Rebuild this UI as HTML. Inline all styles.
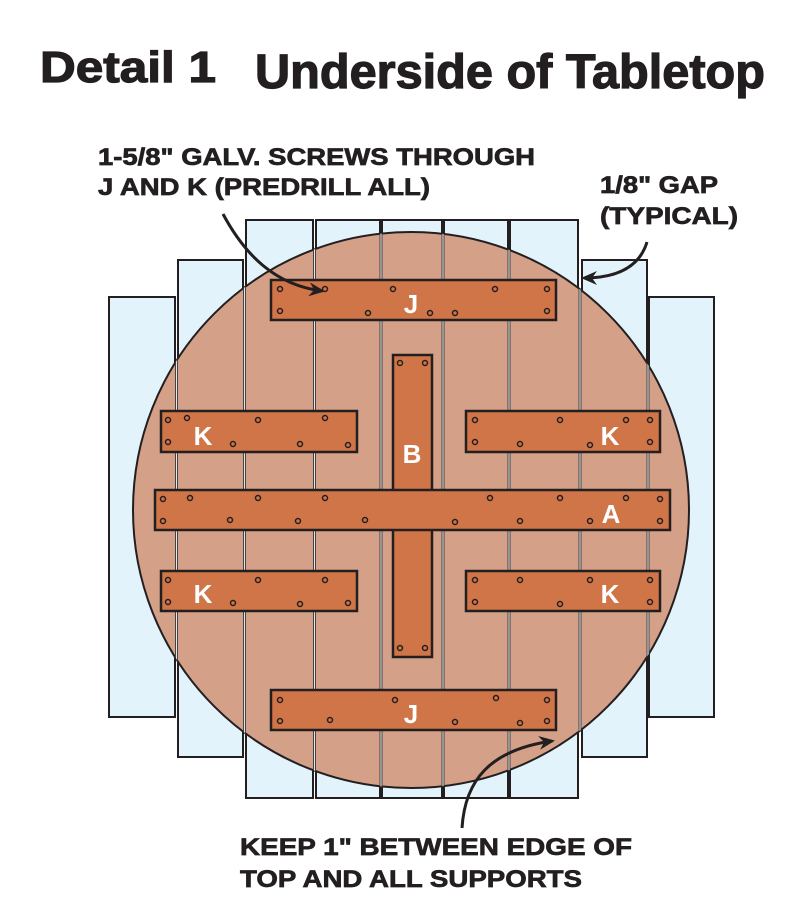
<!DOCTYPE html>
<html><head><meta charset="utf-8"><style>
html,body{margin:0;padding:0;background:#fff;}
svg{display:block;}
text{font-family:"Liberation Sans",sans-serif;font-weight:bold;fill:#231f20;}
.lab text{stroke:#231f20;stroke-width:0.7;}
</style></head><body>
<svg width="800" height="917" viewBox="0 0 800 917" xmlns="http://www.w3.org/2000/svg">
<defs>
<marker id="ah" markerWidth="16" markerHeight="14" refX="13" refY="7" orient="auto" markerUnits="userSpaceOnUse"><path d="M0,0 L16,7 L0,14 L5,7 Z" fill="#231f20"/></marker>
<clipPath id="cc"><circle cx="411" cy="510" r="278"/></clipPath>
</defs>
<g class="lab">
<text x="40" y="82" font-size="44" textLength="176" lengthAdjust="spacingAndGlyphs" style="stroke-width:1.2">Detail 1</text>
<text x="255" y="88" font-size="48" textLength="510" lengthAdjust="spacingAndGlyphs" style="stroke-width:1.2">Underside of Tabletop</text>
</g>

<g fill="#e3f3fc" stroke="#231f20" stroke-width="2">
<rect x="109" y="297" width="66" height="420"/>
<rect x="178" y="260" width="65" height="497"/>
<rect x="246" y="220" width="67" height="578"/>
<rect x="316" y="220" width="64" height="578"/>
<rect x="382" y="220" width="60" height="578"/>
<rect x="444" y="220" width="64" height="578"/>
<rect x="510" y="220" width="68" height="578"/>
<rect x="582" y="260" width="65" height="497"/>
<rect x="649" y="297" width="65" height="420"/>
</g>
<circle cx="411" cy="510" r="278" fill="#d4a088" stroke="#231f20" stroke-width="2"/>
<g clip-path="url(#cc)" stroke="#444" stroke-width="3">
<line x1="176.5" y1="0" x2="176.5" y2="917"/><line x1="244.5" y1="0" x2="244.5" y2="917"/>
<line x1="314.5" y1="0" x2="314.5" y2="917"/><line x1="381" y1="0" x2="381" y2="917"/>
<line x1="443" y1="0" x2="443" y2="917"/><line x1="509" y1="0" x2="509" y2="917"/>
<line x1="580" y1="0" x2="580" y2="917"/><line x1="648" y1="0" x2="648" y2="917"/>
</g>
<g clip-path="url(#cc)" stroke="#e6e6e6" stroke-width="1">
<line x1="176.5" y1="0" x2="176.5" y2="917"/><line x1="244.5" y1="0" x2="244.5" y2="917"/>
<line x1="314.5" y1="0" x2="314.5" y2="917"/><line x1="381" y1="0" x2="381" y2="917"/>
<line x1="443" y1="0" x2="443" y2="917"/><line x1="509" y1="0" x2="509" y2="917"/>
<line x1="580" y1="0" x2="580" y2="917"/><line x1="648" y1="0" x2="648" y2="917"/>
</g>
<g fill="#d07548" stroke="#231f20" stroke-width="2.5">
<rect x="393" y="355" width="39" height="302"/>
<rect x="271" y="280" width="285" height="40"/>
<rect x="271" y="690" width="285" height="40"/>
<rect x="161" y="411" width="196" height="41"/>
<rect x="466" y="411" width="194" height="41"/>
<rect x="161" y="571" width="196" height="40"/>
<rect x="466" y="571" width="194" height="40"/>
<rect x="155" y="490" width="515" height="40"/>
</g>
<g fill="none" stroke="#231f20" stroke-width="1.5">
<circle cx="280" cy="289" r="2.5"/><circle cx="280" cy="311" r="2.5"/><circle cx="325" cy="289" r="2.5"/><circle cx="368" cy="313" r="2.5"/><circle cx="393" cy="289" r="2.5"/><circle cx="430" cy="313" r="2.5"/><circle cx="495" cy="289" r="2.5"/><circle cx="547" cy="289" r="2.5"/><circle cx="547" cy="311" r="2.5"/><circle cx="455" cy="313" r="2.5"/>
<circle cx="280" cy="700" r="2.5"/><circle cx="280" cy="721" r="2.5"/><circle cx="330" cy="720" r="2.5"/><circle cx="395" cy="700" r="2.5"/><circle cx="455" cy="722" r="2.5"/><circle cx="496" cy="698" r="2.5"/><circle cx="520" cy="723" r="2.5"/><circle cx="547" cy="700" r="2.5"/><circle cx="547" cy="721" r="2.5"/>
<circle cx="168" cy="420" r="2.5"/><circle cx="168" cy="442" r="2.5"/><circle cx="187" cy="418" r="2.5"/><circle cx="233" cy="444" r="2.5"/><circle cx="258" cy="420" r="2.5"/><circle cx="300" cy="444" r="2.5"/><circle cx="325" cy="418" r="2.5"/><circle cx="348" cy="445" r="2.5"/>
<circle cx="475" cy="420" r="2.5"/><circle cx="475" cy="442" r="2.5"/><circle cx="520" cy="444" r="2.5"/><circle cx="560" cy="420" r="2.5"/><circle cx="590" cy="445" r="2.5"/><circle cx="626" cy="420" r="2.5"/><circle cx="650" cy="420" r="2.5"/><circle cx="650" cy="442" r="2.5"/>
<circle cx="168" cy="580" r="2.5"/><circle cx="168" cy="602" r="2.5"/><circle cx="233" cy="603" r="2.5"/><circle cx="258" cy="580" r="2.5"/><circle cx="300" cy="604" r="2.5"/><circle cx="325" cy="580" r="2.5"/><circle cx="348" cy="603" r="2.5"/>
<circle cx="475" cy="580" r="2.5"/><circle cx="475" cy="602" r="2.5"/><circle cx="520" cy="580" r="2.5"/><circle cx="560" cy="604" r="2.5"/><circle cx="590" cy="580" r="2.5"/><circle cx="650" cy="580" r="2.5"/><circle cx="650" cy="602" r="2.5"/>
<circle cx="163" cy="499" r="2.5"/><circle cx="163" cy="521" r="2.5"/><circle cx="190" cy="498" r="2.5"/><circle cx="230" cy="520" r="2.5"/><circle cx="258" cy="498" r="2.5"/><circle cx="298" cy="521" r="2.5"/><circle cx="325" cy="498" r="2.5"/><circle cx="365" cy="520" r="2.5"/><circle cx="455" cy="522" r="2.5"/><circle cx="490" cy="498" r="2.5"/><circle cx="520" cy="521" r="2.5"/><circle cx="560" cy="498" r="2.5"/><circle cx="590" cy="521" r="2.5"/><circle cx="626" cy="498" r="2.5"/><circle cx="660" cy="499" r="2.5"/><circle cx="660" cy="521" r="2.5"/>
<circle cx="400" cy="363" r="2.5"/><circle cx="425" cy="363" r="2.5"/><circle cx="400" cy="648" r="2.5"/><circle cx="425" cy="648" r="2.5"/>
</g>
<g font-size="26" text-anchor="middle">
<text x="411" y="313" style="fill:#fff">J</text>
<text x="411" y="723" style="fill:#fff">J</text>
<text x="203" y="445" style="fill:#fff">K</text>
<text x="610" y="445" style="fill:#fff">K</text>
<text x="203" y="603" style="fill:#fff">K</text>
<text x="610" y="603" style="fill:#fff">K</text>
<text x="412" y="463" style="fill:#fff">B</text>
<text x="611" y="523" style="fill:#fff">A</text>
</g>
<g fill="none" stroke="#231f20" stroke-width="3">
<path d="M223,214 C245,255 275,285 322,291" marker-end="url(#ah)"/>
<path d="M647,242 C640,265 620,278 584,278" marker-end="url(#ah)"/>
<path d="M462,828 C465,780 490,750 552,741" marker-end="url(#ah)"/>
</g>
<g font-size="24" class="lab">
<text x="98" y="165" textLength="437" lengthAdjust="spacingAndGlyphs">1-5/8" GALV. SCREWS THROUGH</text>
<text x="98" y="195" textLength="332" lengthAdjust="spacingAndGlyphs">J AND K (PREDRILL ALL)</text>
<text x="600" y="193" textLength="118" lengthAdjust="spacingAndGlyphs">1/8" GAP</text>
<text x="600" y="224" textLength="138" lengthAdjust="spacingAndGlyphs">(TYPICAL)</text>
<text x="240" y="855" textLength="392" lengthAdjust="spacingAndGlyphs">KEEP 1" BETWEEN EDGE OF</text>
<text x="240" y="887" textLength="342" lengthAdjust="spacingAndGlyphs">TOP AND ALL SUPPORTS</text>
</g>
</svg>
</body></html>
